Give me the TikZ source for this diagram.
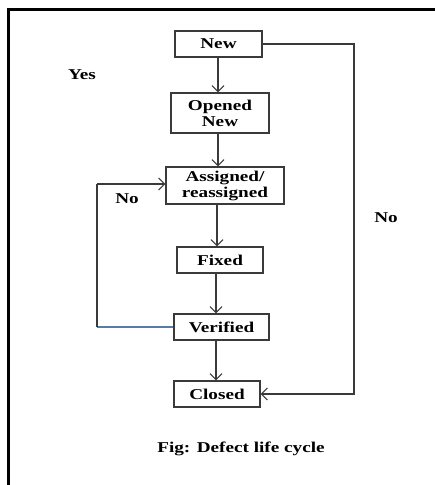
\documentclass[tikz,border=0pt]{standalone}
\usepackage{fontspec}
\setmainfont{Liberation Serif}[FakeStretch=1.28]
\usetikzlibrary{arrows.meta}
\definecolor{edge}{HTML}{3A3A3A}
\definecolor{loopblue}{HTML}{5A7BA8}
\tikzset{
  state/.style={draw=edge, line width=1.3pt, fill=white, inner sep=0pt,
    align=center, font=\fontsize{15}{16}\selectfont\bfseries},
  flow/.style={draw=edge, line width=1.1pt,
    -{Straight Barb[length=6pt,width=12pt,line width=1.1pt]}},
  plain/.style={draw=edge, line width=1.1pt},
  lbl/.style={inner sep=0pt, font=\fontsize{15}{16}\selectfont\bfseries}
}
\begin{document}
\begin{tikzpicture}[x=1pt, y=-1pt]
  \useasboundingbox (0,0) rectangle (435,485);
  % page frame
  \draw[line width=3pt, black] (8.5,485) -- (8.5,9) -- (435,9);

  % states
  \node[state, minimum width=87pt, minimum height=26pt] (new) at (218.5,44) {New};
  \node[state, minimum width=98pt, minimum height=40pt] (open) at (220,113) {Opened\\New};
  \node[state, minimum width=118pt, minimum height=37pt] (assign) at (225,185.5) {Assigned/\\reassigned};
  \node[state, minimum width=86pt, minimum height=26pt] (fixed) at (220,260) {Fixed};
  \node[state, minimum width=95pt, minimum height=26pt] (verif) at (221.5,327) {Verified};
  \node[state, minimum width=86pt, minimum height=26pt] (closed) at (217,394) {Closed};

  % main flow
  \draw[flow] (new.south -| 218,0) -- (open.north -| 218,0);
  \draw[flow] (open.south -| 218,0) -- (assign.north -| 218,0);
  \draw[flow] (assign.south -| 217,0) -- (fixed.north -| 217,0);
  \draw[flow] (fixed.south -| 216,0) -- (verif.north -| 216,0);
  \draw[flow] (verif.south -| 216,0) -- (closed.north -| 216,0);

  % rejection path back to assignment
  \coordinate (lb) at (97,327);
  \coordinate (lt) at (97,184);
  \draw[draw=loopblue, line width=1.1pt] (verif.west) -- (lb);
  \draw[plain] (lb) -- (lt);
  \draw[flow] (lt) -- (assign.west |- lt);

  % direct closure path
  \coordinate (rt) at (354,44);
  \coordinate (rb) at (354,394);
  \draw[flow] (new.east) -- (rt) -- (rb) -- (closed.east);

  % labels
  \node[lbl] (yes) at (82,75) {Yes};
  \node[lbl] (noL) at (127,199) {No};
  \node[lbl] (noR) at (386,218) {No};
  \node[lbl] (cap) at (241,449) {Fig: Defect life cycle};
\end{tikzpicture}
\end{document}
